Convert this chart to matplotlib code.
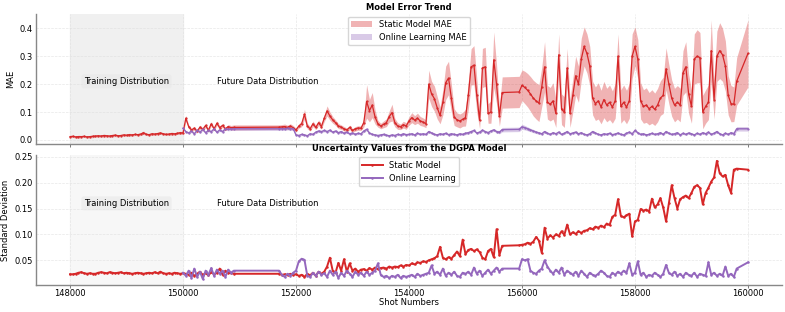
import numpy as np
import matplotlib
matplotlib.use('Agg')
import matplotlib.pyplot as plt

# shot numbers (no shots recorded in the gaps 150900-151700, 155650-155950, 159800-160000)
shots_static = np.concatenate([np.arange(148000, 150001, 50), np.arange(150050, 150901, 50),
                               np.arange(151700, 155651, 50), [155950],
                               np.arange(156000, 159801, 50), [160000]])
shots_online = np.concatenate([np.arange(150000, 150901, 50), np.arange(151700, 155651, 50),
                               [155950], np.arange(156000, 159801, 50), [160000]])

# ---- static model MAE (mean) ----
mae_static = [
    0.012, 0.013, 0.011, 0.012, 0.012, 0.013, 0.011, 0.012, 0.013, 0.014,
    0.015, 0.014, 0.016, 0.015, 0.014, 0.016, 0.017, 0.015, 0.016, 0.018,
    0.017, 0.019, 0.018, 0.020, 0.019, 0.021, 0.026, 0.020, 0.019, 0.022,
    0.021, 0.023, 0.025, 0.022, 0.020, 0.021, 0.023, 0.022, 0.024, 0.026,
    0.025,
    0.078, 0.048, 0.036, 0.042, 0.031, 0.046, 0.038, 0.052, 0.035, 0.058,
    0.040, 0.060, 0.044, 0.052, 0.040, 0.048, 0.044, 0.045,
    0.046, 0.047, 0.048, 0.045, 0.050, 0.044, 0.036, 0.050, 0.058, 0.092,
    0.050, 0.040, 0.058, 0.045, 0.062, 0.048, 0.078, 0.104, 0.086, 0.072,
    0.062, 0.050, 0.046, 0.040, 0.036, 0.045, 0.034, 0.040, 0.043, 0.042,
    0.062, 0.138, 0.105, 0.125, 0.082, 0.058, 0.050, 0.056, 0.062, 0.084,
    0.098, 0.062, 0.050, 0.047, 0.055, 0.050, 0.068, 0.080, 0.071, 0.078,
    0.068, 0.064, 0.058, 0.200, 0.165, 0.148, 0.115, 0.088, 0.135, 0.205,
    0.222, 0.150, 0.082, 0.072, 0.068, 0.074, 0.080, 0.160, 0.262, 0.268,
    0.160, 0.070, 0.258, 0.262, 0.095, 0.100, 0.287, 0.200, 0.085, 0.170,
    0.172, 0.196, 0.188, 0.178, 0.165, 0.150, 0.140, 0.132, 0.190, 0.262,
    0.135, 0.128, 0.140, 0.095, 0.305, 0.110, 0.100, 0.258, 0.095, 0.160,
    0.230, 0.200, 0.290, 0.335, 0.310, 0.265, 0.150, 0.130, 0.140, 0.118,
    0.145, 0.125, 0.135, 0.118, 0.140, 0.300, 0.120, 0.135, 0.118, 0.140,
    0.300, 0.335, 0.290, 0.140, 0.120, 0.125, 0.112, 0.120, 0.110, 0.125,
    0.150, 0.160, 0.255, 0.200, 0.150, 0.125, 0.135, 0.125, 0.240, 0.262,
    0.165, 0.120, 0.290, 0.300, 0.295, 0.100, 0.120, 0.135, 0.320, 0.145,
    0.300, 0.320, 0.305, 0.265, 0.160, 0.130, 0.128, 0.210,
    0.310]

# spread of the static model MAE
mae_static_sd = [
    0.004, 0.004, 0.004, 0.005, 0.004, 0.004, 0.004, 0.004, 0.005, 0.004,
    0.004, 0.004, 0.005, 0.004, 0.004, 0.004, 0.005, 0.004, 0.004, 0.004,
    0.004, 0.005, 0.004, 0.004, 0.004, 0.005, 0.006, 0.004, 0.004, 0.005,
    0.004, 0.004, 0.005, 0.004, 0.004, 0.004, 0.005, 0.004, 0.004, 0.005,
    0.005,
    0.010, 0.007, 0.006, 0.007, 0.006, 0.007, 0.006, 0.008, 0.006, 0.008,
    0.006, 0.008, 0.007, 0.007, 0.006, 0.007, 0.008, 0.009,
    0.008, 0.008, 0.009, 0.008, 0.008, 0.008,
    0.006, 0.008, 0.010, 0.018, 0.010, 0.008, 0.010, 0.008, 0.010, 0.009,
    0.012, 0.018, 0.015, 0.012, 0.010, 0.009, 0.008, 0.008, 0.007, 0.008,
    0.007, 0.008, 0.008, 0.008,
    0.015, 0.060, 0.040, 0.045, 0.025,
    0.012, 0.010, 0.012, 0.014, 0.020, 0.030, 0.015, 0.012, 0.010, 0.012, 0.012,
    0.015, 0.018, 0.016, 0.018, 0.016, 0.015, 0.014,
    0.050, 0.045, 0.045, 0.040, 0.030, 0.045, 0.060, 0.060, 0.050, 0.030,
    0.025, 0.025, 0.025, 0.030,
    0.050, 0.065, 0.070, 0.060, 0.030, 0.070, 0.070, 0.035, 0.040, 0.100,
    0.070, 0.035, 0.056,
    0.056, 0.055, 0.058, 0.060, 0.062, 0.064, 0.065, 0.066,
    0.070, 0.090, 0.060, 0.060, 0.065, 0.050, 0.075, 0.055, 0.055, 0.070, 0.050,
    0.060, 0.070, 0.065, 0.075, 0.070, 0.070, 0.070, 0.060,
    0.060, 0.065, 0.060, 0.065, 0.060, 0.062, 0.058, 0.062, 0.080, 0.060,
    0.062, 0.060, 0.062, 0.080,
    0.070, 0.070, 0.065, 0.060, 0.062, 0.058, 0.060, 0.058, 0.060,
    0.062, 0.065, 0.075, 0.070, 0.065, 0.060, 0.060, 0.060, 0.080, 0.090, 0.070,
    0.060, 0.090, 0.095, 0.090, 0.060, 0.060, 0.062, 0.110, 0.070, 0.090,
    0.100, 0.095, 0.090, 0.070, 0.065, 0.062, 0.085,
    0.120]

# ---- online learning MAE ----
mae_online = [
    0.042, 0.030, 0.025, 0.032, 0.022, 0.035, 0.028, 0.038, 0.026, 0.034,
    0.030, 0.040, 0.028, 0.036, 0.030, 0.040, 0.038, 0.040, 0.040,
    0.040, 0.041, 0.040, 0.042, 0.040, 0.041,
    0.018, 0.016, 0.020, 0.018, 0.015, 0.022, 0.020, 0.028, 0.032, 0.030,
    0.034, 0.030, 0.035, 0.028, 0.032, 0.026, 0.030, 0.024, 0.028, 0.022,
    0.025, 0.020, 0.024, 0.022,
    0.032, 0.038, 0.025, 0.020, 0.018, 0.016, 0.018, 0.020, 0.017, 0.015,
    0.018, 0.016, 0.020, 0.018, 0.022, 0.019,
    0.020, 0.022, 0.018, 0.024, 0.020, 0.022, 0.020,
    0.030, 0.025, 0.020, 0.018, 0.022, 0.020, 0.024, 0.019, 0.022, 0.020,
    0.018, 0.022, 0.020, 0.024,
    0.026, 0.030, 0.034, 0.025, 0.028, 0.035, 0.030, 0.026, 0.032, 0.036,
    0.030, 0.028, 0.037,
    0.038, 0.047, 0.044, 0.040, 0.036, 0.032, 0.028, 0.025, 0.022, 0.030,
    0.024, 0.020, 0.026, 0.022, 0.028, 0.020, 0.024, 0.030, 0.022, 0.025,
    0.028, 0.022, 0.026, 0.020, 0.018, 0.022, 0.030, 0.025, 0.020, 0.018,
    0.022, 0.020, 0.024, 0.019, 0.021, 0.025, 0.020, 0.018, 0.024, 0.028,
    0.022, 0.034, 0.026, 0.020, 0.022, 0.018, 0.020, 0.024, 0.020, 0.022,
    0.026, 0.020, 0.030, 0.024, 0.020, 0.022, 0.026, 0.018, 0.024, 0.020,
    0.025, 0.022, 0.018, 0.024, 0.020, 0.026, 0.022, 0.028, 0.020, 0.024,
    0.030, 0.022, 0.018, 0.024, 0.020, 0.026, 0.022, 0.040,
    0.040]

mae_online_sd = [
    0.005, 0.004, 0.004, 0.005, 0.004, 0.005, 0.004, 0.005, 0.004, 0.005,
    0.004, 0.005, 0.004, 0.005, 0.005, 0.005, 0.005, 0.006, 0.006,
    0.006, 0.006, 0.006, 0.006, 0.006, 0.006, 0.004, 0.004, 0.004, 0.004,
    0.004, 0.004, 0.004, 0.004, 0.005, 0.004, 0.005, 0.004, 0.005, 0.004,
    0.004, 0.004, 0.005, 0.004, 0.004, 0.004, 0.004, 0.004, 0.004, 0.004,
    0.005, 0.005, 0.004, 0.004, 0.004, 0.004, 0.004, 0.004, 0.004, 0.004,
    0.004, 0.004, 0.004, 0.004, 0.004, 0.004, 0.004, 0.004, 0.004, 0.004,
    0.004, 0.004, 0.004, 0.005, 0.004, 0.004, 0.004, 0.004, 0.004, 0.004,
    0.004, 0.004, 0.004, 0.004, 0.004, 0.004, 0.005, 0.005, 0.005, 0.004,
    0.004, 0.005, 0.005, 0.004, 0.005, 0.005, 0.005, 0.005, 0.006, 0.008,
    0.008, 0.009, 0.008, 0.007, 0.006, 0.006, 0.005, 0.005, 0.004, 0.005,
    0.004, 0.004, 0.004, 0.004, 0.005, 0.004, 0.004, 0.005, 0.004, 0.004,
    0.005, 0.004, 0.004, 0.004, 0.004, 0.004, 0.005, 0.004, 0.004, 0.004,
    0.004, 0.004, 0.004, 0.004, 0.004, 0.004, 0.004, 0.004, 0.004, 0.005,
    0.004, 0.005, 0.004, 0.004, 0.004, 0.004, 0.004, 0.004, 0.004, 0.004,
    0.004, 0.004, 0.005, 0.004, 0.004, 0.004, 0.004, 0.004, 0.004, 0.004,
    0.004, 0.004, 0.004, 0.004, 0.004, 0.004, 0.004, 0.005, 0.004, 0.004,
    0.005, 0.004, 0.004, 0.004, 0.004, 0.004, 0.007, 0.008,
    0.008]

# ---- DGPA uncertainty (standard deviation) ----
std_static = [
    0.023, 0.023, 0.024, 0.026, 0.027, 0.025, 0.024, 0.025, 0.024, 0.024,
    0.026, 0.027, 0.026, 0.025, 0.027, 0.026, 0.025, 0.026, 0.027, 0.025,
    0.026, 0.025, 0.024, 0.025, 0.026, 0.025, 0.024, 0.025, 0.026, 0.025,
    0.027, 0.025, 0.028, 0.025, 0.024, 0.025, 0.024, 0.026, 0.025, 0.024,
    0.025,
    0.024, 0.022, 0.026, 0.020, 0.024, 0.028, 0.022, 0.025, 0.021, 0.027,
    0.023, 0.026, 0.034, 0.022, 0.030, 0.025, 0.026, 0.024,
    0.024, 0.022, 0.023, 0.021, 0.024, 0.022, 0.023, 0.020, 0.022, 0.018,
    0.024, 0.021, 0.026, 0.020, 0.028, 0.024, 0.028, 0.038, 0.055, 0.030,
    0.026, 0.045, 0.030, 0.052, 0.028, 0.044, 0.030, 0.034, 0.028, 0.032,
    0.033, 0.030, 0.035, 0.032, 0.036, 0.033, 0.035, 0.036, 0.034, 0.038,
    0.036, 0.038, 0.037, 0.040, 0.038, 0.041, 0.040, 0.044, 0.042, 0.046,
    0.045, 0.048, 0.047, 0.050, 0.052, 0.054, 0.058, 0.076, 0.055, 0.052,
    0.056, 0.053, 0.060, 0.067, 0.058, 0.090, 0.062, 0.070, 0.072, 0.068,
    0.071, 0.066, 0.055, 0.052, 0.068, 0.072, 0.056, 0.110, 0.060, 0.078,
    0.079, 0.080, 0.081, 0.084, 0.082, 0.086, 0.095, 0.088, 0.064, 0.113,
    0.092, 0.098, 0.094, 0.100, 0.097, 0.106, 0.099, 0.119, 0.100, 0.104,
    0.101, 0.106, 0.103, 0.107, 0.108, 0.112, 0.110, 0.115, 0.113, 0.117,
    0.114, 0.121, 0.118, 0.134, 0.138, 0.168, 0.136, 0.133, 0.137, 0.140,
    0.096, 0.125, 0.128, 0.149, 0.146, 0.148, 0.144, 0.169, 0.152, 0.158,
    0.170, 0.152, 0.125, 0.160, 0.195, 0.170, 0.150, 0.168, 0.172, 0.175,
    0.170, 0.180, 0.192, 0.195, 0.190, 0.158, 0.180, 0.190, 0.202, 0.210,
    0.242, 0.218, 0.212, 0.215, 0.195, 0.180, 0.225, 0.227,
    0.225]

std_online = [
    0.026, 0.020, 0.030, 0.016, 0.034, 0.018, 0.028, 0.014, 0.030, 0.022,
    0.035, 0.020, 0.032, 0.024, 0.030, 0.018, 0.032, 0.026, 0.030,
    0.030, 0.022, 0.018, 0.024, 0.020, 0.026, 0.030, 0.048, 0.053, 0.051,
    0.020, 0.018, 0.026, 0.020, 0.028, 0.022, 0.025, 0.018, 0.030, 0.022,
    0.028, 0.016, 0.026, 0.020, 0.030, 0.024, 0.018, 0.028, 0.022, 0.026,
    0.020, 0.028, 0.022, 0.026, 0.030, 0.044, 0.022, 0.018, 0.020, 0.016,
    0.020, 0.018, 0.022, 0.016, 0.020, 0.018, 0.020, 0.022, 0.018, 0.024,
    0.020, 0.022, 0.024, 0.026, 0.040, 0.024, 0.028, 0.022, 0.034, 0.020,
    0.026, 0.022, 0.028, 0.020, 0.018, 0.026, 0.024, 0.028, 0.022, 0.036,
    0.024, 0.030, 0.020, 0.026, 0.032, 0.024, 0.030, 0.036, 0.028, 0.034,
    0.034, 0.052, 0.050, 0.052, 0.030, 0.026, 0.024, 0.030, 0.034, 0.050,
    0.038, 0.030, 0.024, 0.032, 0.026, 0.036, 0.022, 0.030, 0.026, 0.022,
    0.028, 0.020, 0.030, 0.024, 0.018, 0.026, 0.022, 0.020, 0.024, 0.030,
    0.026, 0.020, 0.018, 0.026, 0.022, 0.028, 0.024, 0.030, 0.026, 0.044,
    0.022, 0.026, 0.048, 0.022, 0.026, 0.018, 0.022, 0.020, 0.026, 0.022,
    0.018, 0.024, 0.041, 0.026, 0.022, 0.028, 0.020, 0.024, 0.018, 0.026,
    0.022, 0.020, 0.026, 0.018, 0.024, 0.022, 0.020, 0.046, 0.022, 0.026,
    0.020, 0.024, 0.020, 0.038, 0.020, 0.024, 0.018, 0.034,
    0.046]

mae_static = np.array(mae_static)
mae_static_sd = np.array(mae_static_sd)
mae_online = np.array(mae_online)
mae_online_sd = np.array(mae_online_sd)

RED = '#d62728'
PURPLE = '#9467bd'

plt.rcParams['font.family'] = 'DejaVu Sans'
plt.rcParams['font.size'] = 6

fig, (ax1, ax2) = plt.subplots(2, 1, sharex=True, figsize=(7.85, 3.12), dpi=100)
fig.subplots_adjust(left=0.046, right=0.996, top=0.955, bottom=0.087, hspace=0.085)

# top: MAE trend
ax1.axvspan(148000, 150000, color='#f0f0f0', zorder=0)
ax1.fill_between(shots_static, mae_static - mae_static_sd, mae_static + mae_static_sd,
                 color=RED, alpha=0.35, lw=0, label='Static Model MAE')
ax1.plot(shots_static, mae_static, color=RED, lw=0.9, marker='o', ms=0.6)
ax1.fill_between(shots_online, mae_online - mae_online_sd, mae_online + mae_online_sd,
                 color=PURPLE, alpha=0.35, lw=0, label='Online Learning MAE')
ax1.plot(shots_online, mae_online, color=PURPLE, lw=1.0, marker='o', ms=0.6)
ax1.set_ylabel('MAE', labelpad=3)
ax1.set_title('Model Error Trend', fontweight='bold', fontsize=6, pad=3)
ax1.set_yticks([0.0, 0.1, 0.2, 0.3, 0.4])
ax1.legend(loc='upper center', fontsize=6, handlelength=2.5, borderaxespad=0.3)

# bottom: DGPA uncertainty
ax2.axvspan(148000, 150000, color='#f7f7f7', zorder=0)
ax2.plot(shots_static, std_static, color=RED, lw=1.4, marker='o', ms=0.8, label='Static Model')
ax2.plot(shots_online, std_online, color=PURPLE, lw=1.4, marker='o', ms=0.8, label='Online Learning')
ax2.set_ylabel('Standard Deviation', labelpad=3)
ax2.set_xlabel('Shot Numbers', labelpad=0)
ax2.set_title('Uncertainty Values from the DGPA Model', fontweight='bold', fontsize=6, pad=3)
ax2.set_yticks([0.05, 0.10, 0.15, 0.20, 0.25])
ax2.set_xticks([148000, 150000, 152000, 154000, 156000, 158000, 160000])
ax2.legend(loc='upper center', fontsize=6, handlelength=2.5, borderaxespad=0.3)

for ax, y in [(ax1, 0.21), (ax2, 0.16)]:
    ax.text(149000, y, 'Training Distribution', ha='center', va='center', fontsize=6,
            bbox=dict(facecolor='#e8e8e8', edgecolor='none', alpha=0.6, boxstyle='round,pad=0.3'))
    ax.text(151500, y, 'Future Data Distribution', ha='center', va='center', fontsize=6)
    ax.grid(True, ls='--', lw=0.5, color='#dddddd', alpha=0.7)
    ax.set_axisbelow(True)
    for s in ['top', 'right']:
        ax.spines[s].set_visible(False)
    for s in ['left', 'bottom']:
        ax.spines[s].set_color('#888888')
        ax.spines[s].set_linewidth(1.0)
    ax.tick_params(axis='x', length=2.2, width=0.6, color='#666666', pad=1)
    ax.tick_params(axis='y', length=0, pad=2.5)

plt.savefig('out.png', dpi=100)
